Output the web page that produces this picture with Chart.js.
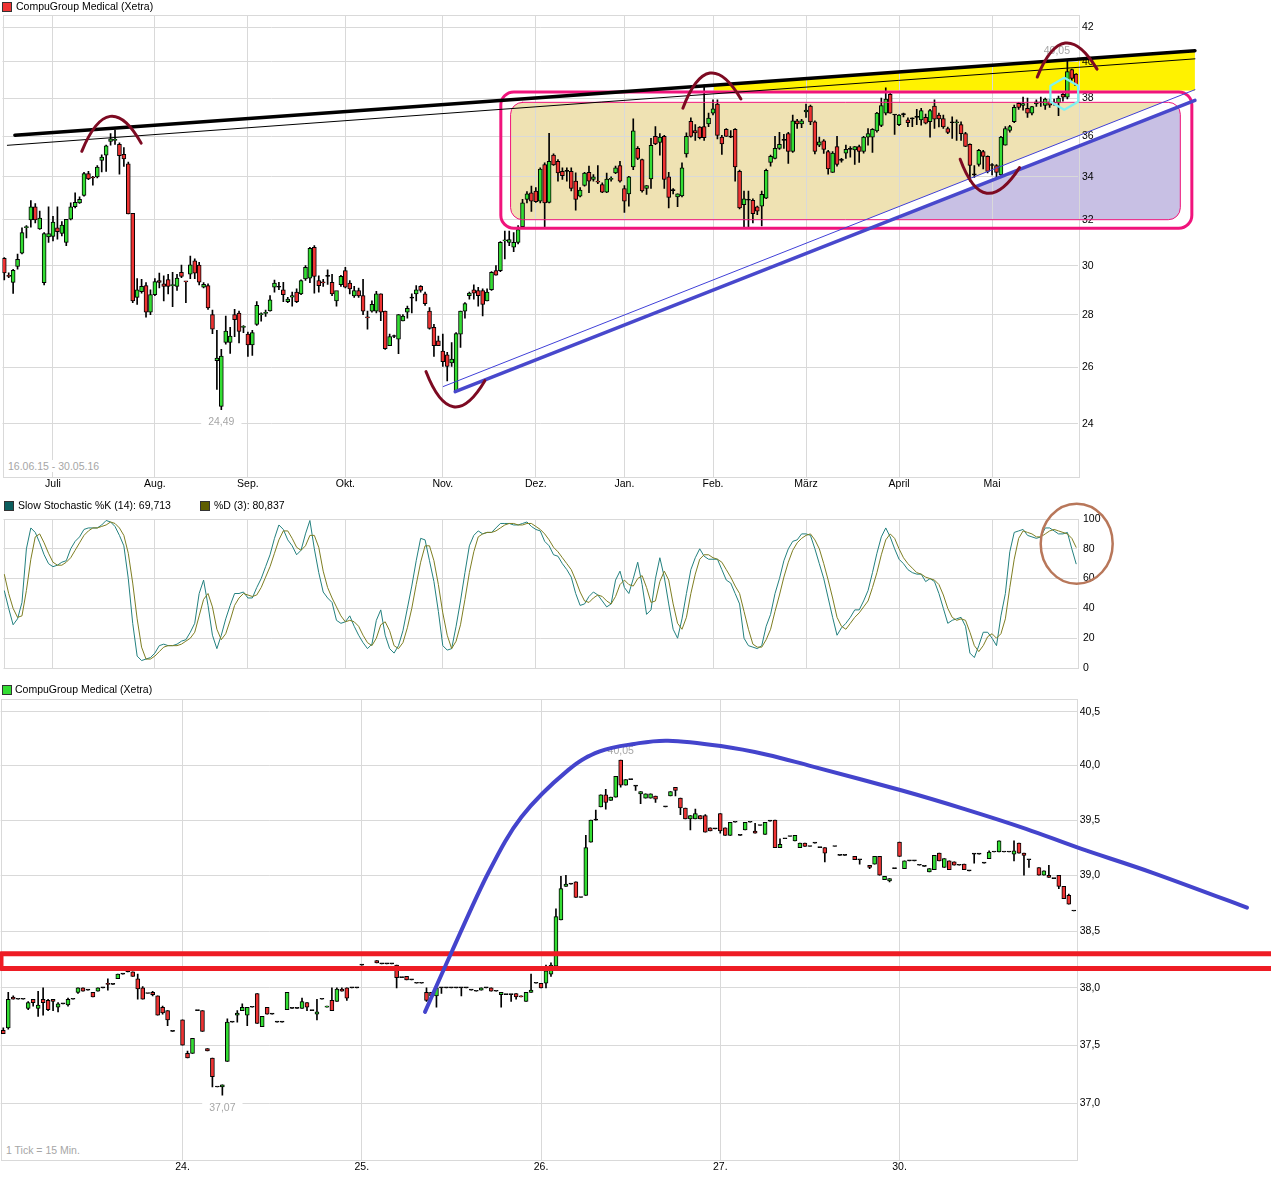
<!DOCTYPE html>
<html>
<head>
<meta charset="utf-8">
<title>CompuGroup Medical (Xetra)</title>
<script src="https://cdn.jsdelivr.net/npm/chart.js@4.4.0/dist/chart.umd.min.js"></script>
<style>
  body { margin: 0; background: #fff; font-family: "Liberation Sans", Arial, sans-serif; font-size: 10.5px; color: #000; }
  #wrap { position: relative; width: 1271px; height: 1184px; overflow: hidden; }
  canvas { position: absolute; left: 0; }
  .sq { position: absolute; width: 8px; height: 8px; border: 1px solid #333; }
  .tx { position: absolute; white-space: nowrap; line-height: 13px; }
  .note { position: absolute; white-space: nowrap; line-height: 12px; color: #a6a6a6; background: #fff; padding: 0 2px; }
</style>
</head>
<body>
<div id="wrap">
  <canvas id="daily" width="1271" height="495" style="top:0"></canvas>
  <canvas id="stoch" width="1271" height="190" style="top:495px"></canvas>
  <canvas id="intra" width="1271" height="499" style="top:685px"></canvas>

  <div class="sq" style="left:2px;top:2px;background:#ee3333"></div>
  <div class="tx" style="left:16px;top:0">CompuGroup Medical (Xetra)</div>
  <div class="note" style="left:6px;top:460px">16.06.15 - 30.05.16</div>

  <div class="sq" style="left:4px;top:501px;background:#0b5e5e"></div>
  <div class="tx" style="left:18px;top:499px">Slow Stochastic %K (14): 69,713</div>
  <div class="sq" style="left:200px;top:501px;background:#5e5e00"></div>
  <div class="tx" style="left:214px;top:499px">%D (3): 80,837</div>

  <div class="sq" style="left:2px;top:685px;background:#33dd33"></div>
  <div class="tx" style="left:15px;top:683px">CompuGroup Medical (Xetra)</div>
  <div class="note" style="left:4px;top:1144px">1 Tick = 15 Min.</div>
</div>

<script>
// ---------- daily chart, 16.06.15 - 30.05.16 ----------
const monthLabels = ['Juli', 'Aug.', 'Sep.', 'Okt.', 'Nov.', 'Dez.', 'Jan.', 'Feb.', 'März', 'April', 'Mai'];
const monthStart = [11, 34, 55, 77, 99, 120, 140, 160, 181, 202, 223];
const dailyTicks = [24, 26, 28, 30, 32, 34, 36, 38, 40, 42];

// one row per trading day: [open, high, low, close]
const daily = [
  [30.31,30.35,29.4,29.7],[29.6,29.7,29.5,29.55],[29.3,29.85,28.85,29.8],[29.97,30.5,29.85,30.27],[30.53,31.64,30.5,31.43],
  [31.65,31.75,31.2,31.7],[32.0,32.89,31.67,32.6],[32.6,32.75,31.87,32.0],[31.6,32.4,31.57,32.08],[29.29,31.43,29.2,31.39],
  [31.24,32.6,31.0,31.39],[31.26,32.16,31.07,31.9],[31.64,32.6,31.14,31.47],[31.4,31.93,31.29,31.77],[31.0,32.03,30.86,32.03],
  [32.03,32.78,32.0,32.6],[32.6,33.25,32.55,32.8],[32.78,33.06,32.75,32.94],[33.12,34.22,33.09,34.16],[34.16,34.27,33.87,33.9],
  [33.98,34.03,33.61,33.95],[34.0,34.55,33.95,34.48],[34.8,35.08,34.24,34.97],[35.06,35.56,34.27,35.52],[35.74,36.14,35.56,35.87],
  [35.8,36.32,35.6,35.82],[35.6,35.68,34.13,35.03],[35.1,35.43,34.51,34.87],[34.63,34.72,32.27,32.27],[32.3,32.3,28.48,28.55],
  [28.69,29.46,28.41,29.0],[28.92,29.43,28.86,29.14],[29.17,29.29,27.9,28.1],[28.1,29.0,28.0,28.8],[28.8,29.46,28.76,29.34],
  [29.38,29.69,29.07,29.3],[29.24,29.57,28.55,29.14],[29.42,29.64,28.83,29.14],[29.17,29.72,28.32,29.2],[29.14,29.64,28.97,29.48],
  [29.72,30.03,29.5,29.55],[29.34,29.34,28.48,29.32],[29.64,30.41,29.46,30.04],[30.21,30.29,29.46,29.68],[30.03,30.14,29.2,29.31],
  [29.1,29.29,29.07,29.22],[29.17,29.24,28.21,28.27],[28.0,28.18,27.26,27.43],[26.24,27.39,25.2,26.34],[24.6,26.66,24.49,26.41],
  [26.92,27.94,26.86,27.36],[26.92,27.5,26.51,27.17],[28.0,28.21,27.14,27.8],[28.06,28.14,26.9,27.34],[27.5,27.57,27.3,27.52],
  [27.24,27.32,26.4,26.83],[26.83,27.39,26.43,27.3],[27.62,28.52,27.58,28.37],[28.0,28.07,27.74,28.02],[28.05,28.18,27.93,28.07],
  [28.15,28.76,28.14,28.59],[29.1,29.4,28.9,29.27],[29.1,29.3,29.0,29.1],[29.0,29.3,28.52,28.8],[28.52,28.69,28.48,28.62],
  [28.7,28.9,28.34,28.76],[28.9,29.04,28.48,28.52],[28.83,29.41,28.8,29.38],[29.45,30.0,29.38,29.93],[29.48,30.79,29.29,30.74],
  [30.79,30.86,28.86,29.55],[29.38,29.57,28.9,29.17],[29.3,29.43,29.14,29.28],[29.55,29.83,29.22,29.55],[29.3,29.64,28.76,28.83],
  [28.55,28.9,28.34,28.97],[29.21,29.6,29.14,29.55],[29.79,29.93,29.07,29.1],[29.27,29.38,28.83,29.03],[28.75,29.14,28.69,28.97],
  [28.97,29.07,28.69,28.75],[28.76,29.43,28.0,28.14],[27.9,28.14,27.43,27.87],[28.14,28.55,28.1,28.41],[28.14,28.93,28.07,28.83],
  [28.83,28.83,27.76,28.1],[28.14,28.14,26.66,26.69],[26.8,27.24,26.8,27.15],[27.15,27.2,27.1,27.15],[27.05,28.0,26.5,28.0],
  [27.75,28.0,27.75,27.94],[28.1,28.34,27.86,28.25],[28.66,28.83,28.07,28.66],[28.83,29.17,28.55,29.0],[29.14,29.17,28.9,28.97],
  [28.83,28.9,28.37,28.44],[28.14,28.28,27.43,27.46],[27.5,27.62,26.4,26.8],[26.98,27.17,26.8,26.8],[26.6,27.24,26.03,26.2],
  [26.46,26.55,25.5,26.03],[26.16,26.92,26.03,26.3],[25.15,27.3,25.12,27.26],[27.24,28.14,26.73,28.14],[28.14,28.48,27.86,28.44],
  [28.76,28.9,28.62,28.86],[29.0,29.2,28.62,28.86],[28.97,29.1,28.34,28.76],[28.97,29.04,27.95,28.41],[28.55,29.04,28.55,28.9],
  [29.0,29.75,28.97,29.72],[29.79,30.0,29.6,29.6],[29.79,31.04,29.75,31.0],[31.07,31.5,30.29,31.1],[31.0,31.5,30.86,31.12],
  [30.79,31.43,30.6,31.0],[31.0,31.75,30.93,31.57],[31.7,32.94,31.67,32.78],[32.94,33.31,32.78,33.2],[33.25,33.56,32.39,32.86],
  [33.33,33.49,32.8,32.83],[32.86,34.44,32.78,34.38],[34.6,34.68,31.66,32.78],[32.8,36.16,32.78,34.75],[35.06,35.12,34.55,34.58],
  [34.75,34.84,33.8,34.19],[34.27,34.44,33.88,34.06],[34.27,34.44,33.8,34.27],[34.27,34.44,33.33,33.45],[33.8,34.2,32.44,32.94],
  [33.09,33.49,33.05,33.37],[33.59,34.22,33.56,34.19],[34.22,34.52,33.25,33.8],[33.88,34.11,33.8,34.0],[33.8,34.55,33.68,33.75],
  [33.64,33.72,33.25,33.28],[33.28,34.19,33.25,33.9],[33.88,34.0,33.8,33.92],[34.19,34.52,34.16,34.44],[34.55,34.76,33.75,33.8],
  [33.45,33.59,32.34,32.86],[33.2,34.03,32.63,34.0],[34.48,36.9,34.35,36.28],[35.4,35.48,34.84,34.9],[34.84,34.87,33.28,33.33],
  [33.45,33.59,33.17,33.59],[33.9,35.9,33.45,35.55],[36.0,36.5,35.58,35.62],[35.7,36.14,35.06,35.96],[36.0,36.05,33.45,33.88],
  [34.0,34.22,32.55,33.03],[33.35,33.45,33.2,33.35],[33.05,33.2,32.6,33.2],[33.1,34.68,33.05,34.44],[35.12,36.18,34.96,36.0],
  [36.77,36.95,35.96,36.0],[36.3,36.6,35.8,36.18],[36.48,36.5,35.87,35.93],[36.5,38.7,35.8,35.93],[36.64,37.2,36.5,36.94],
  [37.2,37.9,37.1,37.43],[37.68,37.9,35.87,36.05],[35.96,36.05,35.1,35.62],[36.36,36.4,36.0,36.0],[35.96,36.3,35.93,35.96],
  [36.36,36.4,33.8,34.48],[34.27,34.33,32.5,32.55],[32.7,33.33,31.7,32.97],[32.9,33.33,31.7,32.9],[32.9,32.97,31.87,32.28],
  [32.6,32.63,32.24,32.4],[32.63,33.33,31.73,33.17],[33.0,34.38,32.97,34.32],[34.7,35.06,34.52,35.0],[34.9,36.0,34.87,35.4],
  [35.4,36.2,35.35,35.6],[35.8,36.1,35.4,35.8],[36.14,36.2,34.65,35.24],[35.24,37.1,35.19,36.8],[36.8,36.88,36.4,36.64],
  [36.64,36.88,36.45,36.8],[37.26,37.68,36.98,37.36],[37.57,37.62,36.6,36.74],[36.74,36.8,35.12,35.24],[35.56,35.96,35.48,35.72],
  [35.77,35.84,35.14,35.35],[35.24,35.3,34.13,34.38],[34.22,35.24,34.22,35.16],[35.48,36.0,34.52,34.6],[34.8,34.9,34.72,34.8],
  [35.16,35.56,34.9,35.35],[35.35,35.48,34.96,35.35],[35.32,35.48,34.6,35.48],[35.48,35.56,34.7,35.24],[35.24,36.0,35.16,35.96],
  [35.96,36.4,35.56,36.14],[35.96,36.4,35.2,36.36],[36.28,37.24,36.22,37.2],[36.56,38.0,36.5,37.6],[37.2,38.55,37.1,37.95],
  [38.2,38.25,37.2,37.2],[37.1,37.12,36.1,37.1],[36.6,37.12,36.55,37.1],[37.12,37.2,37.0,37.12],[36.85,36.95,36.5,36.7],
  [36.9,36.95,36.5,36.9],[36.98,37.4,36.6,36.98],[36.85,37.45,36.58,37.33],[36.98,37.15,36.64,36.68],[36.76,37.4,35.96,37.33],
  [37.57,37.9,36.4,36.88],[37.1,37.2,36.48,36.9],[36.92,37.1,36.4,36.48],[36.4,36.48,36.14,36.2],[36.7,37.0,35.9,36.7],
  [36.7,36.85,35.8,36.75],[36.6,36.74,35.8,36.14],[36.14,36.2,35.48,35.5],[35.6,35.62,33.8,34.55],[34.1,34.55,33.98,34.1],
  [34.6,35.35,34.52,35.3],[35.24,35.3,34.38,35.0],[35.0,35.03,34.19,34.27],[34.55,34.65,34.1,34.55],[34.55,34.6,33.98,34.22],
  [34.1,36.0,34.05,35.96],[35.56,36.5,35.56,36.4],[36.3,36.56,36.22,36.5],[36.76,37.62,36.7,37.5],[37.72,37.77,37.4,37.5],
  [37.6,38.05,37.35,37.7],[37.45,38.0,36.98,37.2],[37.2,37.56,37.1,37.55],[37.68,37.9,37.56,37.8],[37.75,38.05,37.56,37.75],
  [37.6,38.0,37.4,37.95],[37.8,37.95,37.5,37.62],[37.72,37.95,37.62,37.72],[37.75,38.1,37.07,38.0],[38.2,38.25,37.83,38.04],
  [38.04,40.05,37.95,39.45],[39.56,39.58,38.95,39.06],[39.3,39.33,38.68,38.68]
];

// ---------- slow stochastic (14, 3) ----------
const stochTicks = [0, 20, 40, 60, 80, 100];
const stochK = [
  52,40,29,33,44,80,94,91,84,76, 70,68,69,71,72,80,85,88,93,94, 94,94,96,99,98,95,89,82,60,30,
  8,5,6,7,10,15,16,15,15,16, 18,19,24,30,50,59,42,22,13,22, 33,42,50,50,51,47,47,54,60,68,
  76,87,96,93,86,82,76,79,90,99, 80,64,51,47,44,32,30,31,35,28, 22,17,13,16,32,39,22,13,10,15,
  25,40,55,72,87,86,72,58,38,15, 12,13,28,45,64,82,89,92,90,91, 91,94,97,97,97,96,96,97,98,95,
  93,92,85,82,76,75,70,66,61,50, 42,43,48,51,49,45,41,43,59,65, 54,50,60,71,56,36,39,60,74,61,
  43,26,20,33,50,66,74,80,75,73, 73,73,66,59,57,50,43,20,15,14, 13,15,28,36,50,60,72,80,85,86,
  90,90,89,80,70,60,47,34,22,27, 30,34,39,39,45,52,64,77,88,94, 88,80,73,70,66,64,63,63,58,60,
  58,50,40,30,32,33,34,28,10,7, 15,24,24,20,15,35,50,78,91,92, 93,89,88,87,88,94,94,92,90,90,
  91,80,69.713
];
const stochD = [
  63,50,40,34,35,52,73,88,90,84, 77,71,69,69,71,74,79,84,89,92, 94,94,95,96,98,97,94,89,77,57,
  33,14,6,6,8,11,14,15,15,15, 16,18,20,24,35,46,50,41,26,19, 23,32,42,47,50,49,48,49,54,61,
  68,77,86,92,92,87,81,79,82,89, 89,81,65,54,47,41,35,31,32,31, 28,22,17,15,20,29,31,25,15,13,
  17,27,40,56,71,82,82,72,56,37, 22,13,18,29,46,64,78,88,90,91, 91,92,94,96,97,97,96,96,97,97,
  95,93,90,86,81,78,74,70,66,59, 51,45,44,47,49,48,45,43,48,56, 59,56,55,60,62,54,44,45,58,65,
  59,43,30,26,34,50,63,73,76,76, 74,73,71,66,61,55,50,38,26,16, 14,14,19,26,38,49,61,71,79,84,
  87,89,90,86,80,70,59,47,34,28, 26,30,34,37,41,45,54,64,76,86, 90,87,80,74,70,67,64,63,61,60,
  59,56,49,40,34,32,33,32,24,15, 11,15,21,23,20,23,33,54,73,87, 92,91,90,88,88,90,92,93,92,91,
  90,87,80.837
];

// ---------- 15 minute chart, 23.-30.05.16 (36 slots per day, null = no trade) ----------
const dayLabels = ['24.', '25.', '26.', '27.', '30.'];
const dayStart = [36, 72, 108, 144, 180];
const intraTicks = [37, 37.5, 38, 38.5, 39, 39.5, 40, 40.5];
const intraday = [
  // 23.
  [37.63,37.65,37.6,37.6],[37.65,37.96,37.64,37.9],[37.92,37.93,37.9,37.9],[37.9,37.9,37.9,37.9],[37.9,37.9,37.9,37.9],
  [37.82,37.88,37.81,37.87],[37.9,37.9,37.84,37.87],[37.82,37.97,37.75,37.85],[37.9,38.0,37.76,37.87],[37.89,37.9,37.8,37.81],
  [37.9,37.9,37.8,37.88],[37.83,37.87,37.79,37.86],[37.86,37.86,37.86,37.86],[37.85,37.91,37.84,37.9],[37.9,37.9,37.9,37.9],
  [37.96,38.0,37.95,38.0],[38.0,38.0,37.97,37.97],[37.98,37.98,37.98,37.98],[37.96,37.96,37.92,37.92],[37.97,38.0,37.97,38.0],
  [38.0,38.0,38.0,38.0],[38.04,38.08,37.98,38.03],[38.03,38.03,38.03,38.03],[38.08,38.12,38.08,38.12],[38.12,38.12,38.12,38.12],
  [38.14,38.15,38.14,38.14],[38.14,38.14,38.1,38.1],[38.08,38.12,37.9,37.99],[38.0,38.01,37.9,37.9],[37.95,37.95,37.95,37.95],
  [37.96,37.97,37.93,37.94],[37.93,37.93,37.76,37.76],[37.83,37.84,37.77,37.78],[37.8,37.8,37.67,37.72],[37.62,37.62,37.62,37.62],
  null,
  // 24.
  [37.72,37.72,37.5,37.5],[37.43,37.45,37.39,37.39],[37.43,37.56,37.43,37.56],[37.8,37.8,37.8,37.8],[37.8,37.8,37.62,37.62],
  [37.47,37.47,37.45,37.45],[37.39,37.39,37.14,37.23],[37.14,37.14,37.14,37.14],[37.14,37.16,37.07,37.16],[37.36,37.73,37.36,37.7],
  [37.7,37.7,37.7,37.7],[37.76,37.8,37.7,37.78],[37.8,37.86,37.8,37.83],[37.76,37.83,37.67,37.83],[37.83,37.83,37.83,37.83],
  [37.95,37.95,37.69,37.69],[37.66,37.75,37.66,37.75],[37.83,37.83,37.77,37.77],[37.77,37.77,37.77,37.77],[37.7,37.7,37.7,37.7],
  [37.7,37.7,37.7,37.7],[37.81,37.96,37.81,37.96],[37.82,37.82,37.82,37.82],[37.82,37.82,37.82,37.82],[37.82,37.91,37.82,37.88],
  [37.87,37.87,37.8,37.83],[37.8,37.8,37.8,37.8],[37.77,37.9,37.72,37.79],[37.9,37.9,37.9,37.9],[37.83,37.84,37.83,37.84],
  [37.89,38.0,37.8,37.8],[37.88,38.0,37.88,37.99],[37.99,38.0,37.97,37.97],[38.0,38.0,37.89,37.91],[38.0,38.0,38.0,38.0],
  [38.0,38.0,38.0,38.0],
  // 25.
  [38.2,38.2,38.2,38.2],null,null,[38.24,38.24,38.22,38.22],[38.21,38.21,38.21,38.21],
  [38.21,38.21,38.21,38.21],[38.21,38.21,38.21,38.21],[38.2,38.2,38.0,38.09],[38.09,38.09,38.09,38.09],[38.1,38.1,38.07,38.07],
  [38.07,38.07,38.07,38.07],[38.04,38.04,38.04,38.04],[38.04,38.04,38.04,38.04],[37.96,38.0,37.88,37.89],[37.96,37.96,37.93,37.93],
  [37.93,38.0,37.83,38.0],[38.0,38.0,37.95,38.0],[38.0,38.0,38.0,38.0],[38.0,38.0,38.0,38.0],[38.0,38.0,38.0,38.0],
  [38.0,38.0,37.93,38.0],[38.0,38.0,38.0,38.0],[37.98,37.98,37.98,37.98],[37.97,37.97,37.97,37.97],[37.98,38.0,37.98,38.0],
  [38.0,38.0,38.0,38.0],[38.0,38.0,37.97,37.97],[37.97,37.97,37.97,37.97],[37.94,37.96,37.83,37.96],[37.94,37.94,37.94,37.94],
  [37.94,37.94,37.88,37.94],[37.95,37.95,37.9,37.92],[37.93,37.93,37.92,37.92],[37.88,37.96,37.88,37.96],[37.96,38.12,37.96,37.98],
  [38.04,38.04,38.04,38.04],
  // 26.
  [38.04,38.04,38.0,38.0],[38.04,38.2,38.0,38.15],[38.12,38.22,38.1,38.2],[38.19,38.7,38.19,38.63],[38.6,38.99,38.6,38.88],
  [38.9,39.0,38.9,38.92],[38.92,38.92,38.92,38.92],[38.94,38.94,38.8,38.8],[38.8,38.8,38.8,38.8],[38.82,39.36,38.82,39.25],
  [39.3,39.5,39.3,39.5],[39.5,39.59,39.5,39.5],[39.62,39.73,39.62,39.73],[39.73,39.78,39.6,39.66],[39.68,39.71,39.68,39.71],
  [39.71,39.9,39.71,39.9],[40.05,40.05,39.8,39.82],[39.82,39.87,39.82,39.87],[39.87,39.87,39.87,39.87],[39.81,39.81,39.77,39.81],
  [39.74,39.76,39.65,39.76],[39.7,39.74,39.7,39.74],[39.7,39.74,39.7,39.74],[39.72,39.72,39.66,39.69],null,
  [39.62,39.62,39.62,39.62],[39.72,39.76,39.72,39.76],[39.8,39.8,39.72,39.77],[39.7,39.7,39.55,39.61],[39.61,39.61,39.51,39.51],
  [39.51,39.54,39.41,39.54],[39.51,39.6,39.51,39.56],[39.54,39.54,39.51,39.51],[39.54,39.55,39.39,39.39],[39.43,39.43,39.4,39.4],
  [39.42,39.42,39.42,39.42],
  // 27.
  [39.56,39.56,39.38,39.4],[39.43,39.43,39.36,39.36],[39.36,39.48,39.36,39.48],[39.48,39.48,39.48,39.48],[39.36,39.36,39.36,39.36],
  [39.41,39.48,39.41,39.48],[39.48,39.48,39.48,39.48],[39.4,39.47,39.38,39.38],[39.45,39.45,39.45,39.45],[39.37,39.48,39.37,39.48],
  [39.49,39.49,39.49,39.49],[39.5,39.5,39.25,39.25],[39.25,39.33,39.25,39.28],[39.33,39.33,39.33,39.33],[39.35,39.35,39.35,39.35],
  [39.31,39.36,39.31,39.36],[39.25,39.29,39.25,39.29],[39.29,39.29,39.26,39.26],[39.26,39.26,39.26,39.26],[39.29,39.29,39.29,39.29],
  [39.25,39.25,39.25,39.25],[39.25,39.25,39.12,39.2],null,[39.26,39.26,39.26,39.26],[39.18,39.18,39.18,39.18],
  [39.18,39.18,39.18,39.18],null,[39.17,39.17,39.14,39.14],[39.14,39.14,39.1,39.14],null,
  [39.09,39.09,39.06,39.07],[39.1,39.17,39.1,39.17],[39.17,39.17,39.0,39.0],[38.96,38.99,38.96,38.99],[38.95,38.97,38.94,38.97],
  [39.06,39.06,39.06,39.06],
  // 30.
  [39.3,39.3,39.17,39.17],[39.06,39.13,39.06,39.13],[39.13,39.13,39.13,39.13],[39.13,39.13,39.13,39.13],[39.09,39.09,39.09,39.09],
  [39.08,39.08,39.08,39.08],[39.03,39.06,39.03,39.06],[39.05,39.18,39.05,39.18],[39.2,39.2,39.13,39.13],[39.07,39.15,39.07,39.15],
  [39.13,39.13,39.05,39.05],[39.12,39.12,39.09,39.09],[39.09,39.09,39.09,39.09],[39.1,39.1,39.05,39.05],[39.04,39.04,39.04,39.04],
  [39.19,39.19,39.11,39.19],[39.19,39.19,39.19,39.19],[39.11,39.11,39.11,39.11],[39.15,39.22,39.15,39.21],[39.21,39.21,39.21,39.21],
  [39.21,39.31,39.21,39.31],[39.21,39.21,39.21,39.21],[39.21,39.21,39.21,39.21],[39.19,39.31,39.13,39.22],[39.29,39.29,39.2,39.2],
  [39.2,39.2,39.0,39.18],[39.14,39.14,39.07,39.14],null,[39.07,39.07,39.0,39.0],[39.0,39.04,39.0,39.04],
  [39.0,39.09,38.98,38.98],[38.97,38.97,38.97,38.97],[39.0,39.0,38.88,38.9],[38.9,38.9,38.79,38.79],[38.82,38.83,38.74,38.74],
  [38.68,38.68,38.68,38.68]
];

// ---------- hand drawn marks, in [index, price] ----------
const lineBlack = [[2.4, 36.06], [268.8, 40.62]];
const lineBlackThin = [[0.7, 35.55], [268.8, 40.16]];
const lineBlue = [[101.8, 25.12], [268.8, 37.88]];
const lineBlueThin = [[99.1, 25.3], [268.8, 38.45]];
const boxOuter = [112.1, 268.1, 38.33, 31.63];
const boxInner = [114.3, 265.5, 37.77, 32.01];
const yellowZone = [160, 268.8, 38.39];
const arcs = [
  [[17.5, 35.25], [23.9, 37.03], [30.9, 35.66]],
  [[95.2, 25.84], [101.4, 24.59], [108.5, 25.51]],
  [[153.2, 37.46], [159.3, 39.36], [166.3, 37.95]],
  [[215.8, 34.86], [221.8, 33.23], [229.2, 34.45]],
  [[233.2, 39.14], [239.5, 41.06], [246.7, 39.58]]
];
const hexMark = [239.3, 38.23];
const stochRing = [242.1, 83.4];
const band = [-0.46, 260, 38.30, 38.17];
const curve = [[84.7, 37.79], [90.1, 38.32], [97.4, 39.02], [104.1, 39.53], [113.5, 39.96], [119.8, 40.13],
  [126.7, 40.20], [133.5, 40.23], [144.1, 40.18], [153.4, 40.10], [162.6, 39.99], [180.5, 39.77],
  [193.1, 39.60], [205.4, 39.42], [216.4, 39.24], [231.0, 39.02], [249.8, 38.71]];

const GREEN = '#33dd33';
const RED = '#ee3333';
const GRID = '#d9d9d9';
const FONT = '"Liberation Sans", Arial, sans-serif';

Chart.defaults.font.family = FONT;
Chart.defaults.font.size = 10.5;
Chart.defaults.color = '#000';
Chart.defaults.animation = false;
Chart.defaults.plugins.legend.display = false;
Chart.defaults.plugins.tooltip.enabled = false;

function candleSets(rows) {
  const bodies = [], wicks = [], fills = [];
  rows.forEach((r, i) => {
    if (!r) return;
    const [o, h, l, c] = r;
    bodies.push({x: i, y: [Math.min(o, c), Math.max(o, c)]});
    wicks.push({x: i, y: [l, h]});
    fills.push(c > o ? GREEN : c < o ? RED : '#000');
  });
  return [
    {data: bodies, backgroundColor: fills, borderColor: '#000', borderWidth: 1, borderSkipped: false,
     barThickness: 4, minBarLength: 1, grouped: false, order: 0},
    {data: wicks, backgroundColor: '#000', barThickness: 1, grouped: false, order: 1}
  ];
}

function xAxis(min, max, starts, labels, height, pad) {
  return {
    type: 'linear', min: min, max: max, offset: false,
    afterBuildTicks: s => { s.ticks = starts.map(v => ({value: v})); },
    afterFit: s => { s.height = height; },
    ticks: {autoSkip: false, maxRotation: 0, padding: pad, display: !!labels,
            callback: v => labels ? labels[starts.indexOf(v)] : ''},
    grid: {color: GRID, drawTicks: false, offset: false},
    border: {display: false}
  };
}

function yAxis(type, min, max, ticks, width, pad, fmt) {
  return {
    type: type, position: 'right', min: min, max: max,
    afterBuildTicks: s => { s.ticks = ticks.map(v => ({value: v})); },
    afterFit: s => { s.width = width; },
    ticks: {padding: pad, callback: fmt},
    grid: {color: GRID, drawTicks: false},
    border: {display: false}
  };
}

const frame = {
  id: 'frame',
  beforeDatasetsDraw(chart) {
    const {ctx, chartArea: a} = chart;
    ctx.save();
    ctx.strokeStyle = GRID;
    ctx.lineWidth = 1;
    ctx.strokeRect(Math.round(a.left) + 0.5, Math.round(a.top) + 0.5, Math.round(a.right - a.left), Math.round(a.bottom - a.top));
    ctx.restore();
  }
};

function toPx(chart, p) {
  return [chart.scales.x.getPixelForValue(p[0]), chart.scales.y.getPixelForValue(p[1])];
}

function stroke(ctx, color, width, build) {
  ctx.save();
  ctx.strokeStyle = color;
  ctx.lineWidth = width;
  ctx.lineCap = 'round';
  ctx.lineJoin = 'round';
  ctx.beginPath();
  build();
  ctx.stroke();
  ctx.restore();
}

function segment(chart, pts, color, width) {
  const [a, b] = pts.map(p => toPx(chart, p));
  stroke(chart.ctx, color, width, () => { chart.ctx.moveTo(a[0], a[1]); chart.ctx.lineTo(b[0], b[1]); });
}

function boxPx(chart, b) {
  const [x0, y0] = toPx(chart, [b[0], b[2]]);
  const [x1, y1] = toPx(chart, [b[1], b[3]]);
  return {x: x0, y: y0, w: x1 - x0, h: y1 - y0};
}

function tag(chart, text, i, v, below) {
  const ctx = chart.ctx;
  let [x, y] = toPx(chart, [i, v]);
  ctx.save();
  ctx.font = '10.5px ' + FONT;
  const w = ctx.measureText(text).width;
  x = Math.min(x, chart.chartArea.right - 8 - w / 2);
  y = below ? y + 13 : y - 9.5;
  ctx.fillStyle = '#fff';
  ctx.fillRect(x - w / 2 - 7, y - 6, w + 14, 12);
  ctx.fillStyle = '#a6a6a6';
  ctx.textAlign = 'center';
  ctx.textBaseline = 'middle';
  ctx.fillText(text, x, y);
  ctx.restore();
}

function extremes(rows) {
  let hi = -1, lo = -1;
  rows.forEach((r, i) => {
    if (!r) return;
    if (hi < 0 || r[1] > rows[hi][1]) hi = i;
    if (lo < 0 || r[2] < rows[lo][2]) lo = i;
  });
  return {hi, lo};
}
const de = s => s.toFixed(2).replace('.', ',');

const dailyMarks = {
  id: 'dailyMarks',
  beforeDraw(chart) {
    const ctx = chart.ctx;
    // yellow wedge under the upper resistance line
    const [b0, b1] = lineBlack.map(p => toPx(chart, p));
    const zl = toPx(chart, [yellowZone[0], yellowZone[2]]);
    const zr = toPx(chart, [yellowZone[1], yellowZone[2]]);
    ctx.save();
    ctx.beginPath();
    ctx.rect(zl[0], 0, zr[0] - zl[0], zl[1]);
    ctx.clip();
    ctx.beginPath();
    ctx.moveTo(b0[0], b0[1]); ctx.lineTo(b1[0], b1[1]); ctx.lineTo(b1[0], zl[1]); ctx.lineTo(b0[0], zl[1]);
    ctx.closePath();
    ctx.fillStyle = '#fff200';
    ctx.fill();
    ctx.restore();
    // sideways range box: tan, white channel between the blue lines, lilac below
    const ib = boxPx(chart, boxInner);
    const [k0, k1] = lineBlue.map(p => toPx(chart, p));
    const [t0, t1] = lineBlueThin.map(p => toPx(chart, p));
    ctx.save();
    ctx.beginPath();
    ctx.roundRect(ib.x, ib.y, ib.w, ib.h, 12);
    ctx.fillStyle = '#efe2b3';
    ctx.fill();
    ctx.clip();
    ctx.beginPath();
    ctx.moveTo(t0[0], t0[1]); ctx.lineTo(t1[0], t1[1]); ctx.lineTo(k1[0], k1[1]); ctx.lineTo(k0[0], k0[1]);
    ctx.closePath();
    ctx.fillStyle = '#fff';
    ctx.fill();
    ctx.beginPath();
    ctx.moveTo(k0[0], k0[1]); ctx.lineTo(k1[0], k1[1]); ctx.lineTo(k1[0], 2000); ctx.lineTo(k0[0], 2000);
    ctx.closePath();
    ctx.fillStyle = '#c8c0e4';
    ctx.fill();
    ctx.restore();
  },
  afterDatasetsDraw(chart) {
    const ctx = chart.ctx;
    const ib = boxPx(chart, boxInner);
    const ob = boxPx(chart, boxOuter);
    stroke(ctx, '#f0147c', 1, () => ctx.roundRect(ib.x, ib.y, ib.w, ib.h, 12));
    stroke(ctx, '#f0147c', 3, () => ctx.roundRect(ob.x, ob.y, ob.w, ob.h, 13));
    segment(chart, lineBlackThin, '#000', 1);
    segment(chart, lineBlack, '#000', 3.5);
    segment(chart, lineBlueThin, '#4040d8', 1);
    segment(chart, lineBlue, '#4848cc', 3.5);
    const ex = extremes(daily);
    tag(chart, de(daily[ex.lo][2]), ex.lo, daily[ex.lo][2], true);
    tag(chart, de(daily[ex.hi][1]), ex.hi, daily[ex.hi][1], false);
    arcs.forEach(arc => {
      const [a, b, c] = arc.map(p => toPx(chart, p));
      const cx = 2 * b[0] - (a[0] + c[0]) / 2, cy = 2 * b[1] - (a[1] + c[1]) / 2;
      stroke(ctx, '#7d0a22', 3, () => { ctx.moveTo(a[0], a[1]); ctx.quadraticCurveTo(cx, cy, c[0], c[1]); });
    });
    const [hx, hy] = toPx(chart, hexMark);
    stroke(ctx, '#7ff2f2', 2.2, () => {
      for (let k = 0; k < 6; k++) {
        const ang = -Math.PI / 2 + k * Math.PI / 3;
        const px = hx + 16 * Math.cos(ang), py = hy + 16 * Math.sin(ang);
        if (k === 0) ctx.moveTo(px, py); else ctx.lineTo(px, py);
      }
      ctx.closePath();
    });
  }
};

new Chart(document.getElementById('daily'), {
  type: 'bar',
  data: {datasets: candleSets(daily)},
  options: {
    responsive: false,
    layout: {padding: {left: 2.5, top: 15, right: 0, bottom: 0}},
    scales: {
      x: xAxis(-0.4, 242.4, monthStart, monthLabels, 18, 1),
      y: yAxis('logarithmic', 22.27, 42.72, dailyTicks, 193, 4, v => String(v))
    }
  },
  plugins: [frame, dailyMarks]
});

const stochMarks = {
  id: 'stochMarks',
  afterDatasetsDraw(chart) {
    const ctx = chart.ctx;
    const [cx, cy] = toPx(chart, stochRing);
    stroke(ctx, '#b8775a', 2.5, () => ctx.ellipse(cx, cy, 36, 40, 0, 0, Math.PI * 2));
  }
};

new Chart(document.getElementById('stoch'), {
  type: 'line',
  data: {datasets: [
    {data: stochD.map((v, i) => ({x: i, y: v})), borderColor: '#7e7e22', borderWidth: 1, pointRadius: 0, tension: 0},
    {data: stochK.map((v, i) => ({x: i, y: v})), borderColor: '#23807f', borderWidth: 1, pointRadius: 0, tension: 0}
  ]},
  options: {
    responsive: false,
    layout: {padding: {left: 3.5, top: 24, right: 0, bottom: 0}},
    scales: {
      x: xAxis(-0.17, 242.17, monthStart, null, 17, 0),
      y: yAxis('linear', 0, 100, stochTicks, 194, 6, v => String(v))
    }
  },
  plugins: [frame, stochMarks]
});

const intraMarks = {
  id: 'intraMarks',
  afterDatasetsDraw(chart) {
    const ctx = chart.ctx;
    const ex = extremes(intraday);
    tag(chart, de(intraday[ex.lo][2]), ex.lo, intraday[ex.lo][2], true);
    tag(chart, de(intraday[ex.hi][1]), ex.hi, intraday[ex.hi][1], false);
    const [x0, y0] = toPx(chart, [band[0], band[2]]);
    const [x1, y1] = toPx(chart, [band[1], band[3]]);
    stroke(ctx, '#ee1c24', 5, () => ctx.rect(x0, y0, x1 - x0, y1 - y0));
    const pts = curve.map(p => toPx(chart, p));
    stroke(ctx, '#4444cc', 4, () => {
      ctx.moveTo(pts[0][0], pts[0][1]);
      for (let k = 0; k < pts.length - 1; k++) {
        const p0 = pts[k - 1] || pts[k], p1 = pts[k], p2 = pts[k + 1], p3 = pts[k + 2] || p2;
        ctx.bezierCurveTo(p1[0] + (p2[0] - p0[0]) / 6, p1[1] + (p2[1] - p0[1]) / 6,
                          p2[0] - (p3[0] - p1[0]) / 6, p2[1] - (p3[1] - p1[1]) / 6, p2[0], p2[1]);
      }
    });
  }
};

new Chart(document.getElementById('intra'), {
  type: 'bar',
  data: {datasets: candleSets(intraday)},
  options: {
    responsive: false,
    layout: {padding: {left: 0.7, top: 14.3, right: 0, bottom: 0}},
    scales: {
      x: xAxis(-0.52, 215.59, dayStart, dayLabels, 24, 1),
      y: yAxis('logarithmic', 36.52, 40.616, intraTicks, 194.3, 3, v => v.toFixed(1).replace('.', ','))
    }
  },
  plugins: [frame, intraMarks]
});
</script>
</body>
</html>
